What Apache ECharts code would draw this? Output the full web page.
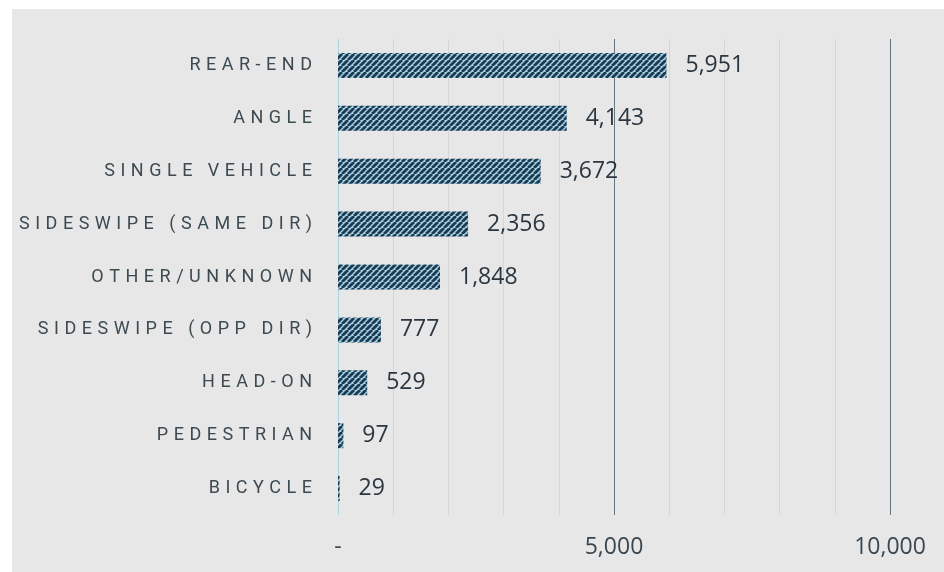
<!DOCTYPE html>
<html>
<head>
<meta charset="utf-8">
<style>
  html, body { margin: 0; padding: 0; background: #ffffff; }
  #chart { width: 944px; height: 572px; }
</style>
<script src="https://cdn.jsdelivr.net/npm/echarts@6/dist/echarts.min.js"></script>
</head>
<body>
<div id="chart"></div>
<script>
// Crash counts by collision type
const categories = [
  'REAR-END', 'ANGLE', 'SINGLE VEHICLE', 'SIDESWIPE (SAME DIR)',
  'OTHER/UNKNOWN', 'SIDESWIPE (OPP DIR)', 'HEAD-ON', 'PEDESTRIAN', 'BICYCLE'
];
const crashes = [5951, 4143, 3672, 2356, 1848, 777, 529, 97, 29];
const axisMax = 10000;
const tickStep = 1000;

// Diagonal hatch fill used for the bars
function hatchPattern() {
  const size = 6;
  const c = document.createElement('canvas');
  c.width = size; c.height = size;
  const g = c.getContext('2d');
  g.fillStyle = '#a6d3e6';
  g.fillRect(0, 0, size, size);
  g.strokeStyle = '#1c3a50';
  g.lineWidth = 2.8;
  for (const k of [-size, 0, size]) {
    g.beginPath();
    g.moveTo(k, size);
    g.lineTo(k + size, 0);
    g.stroke();
  }
  return c;
}

// Spread letters apart (thin + hair space between characters)
function spaced(s) {
  return s.split('').join('\u2009\u200A');
}

const chart = echarts.init(document.getElementById('chart'));
chart.setOption({
  backgroundColor: 'transparent',
  animation: false,
  graphic: [{
    type: 'rect',
    left: 12, top: 9,
    shape: { width: 932, height: 563 },
    style: { fill: '#e7e7e7' },
    z: -10
  }],
  grid: { left: 338, right: 54, top: 39, bottom: 57 },
  xAxis: {
    type: 'value',
    min: 0,
    max: axisMax,
    interval: tickStep,
    axisLine: { show: false },
    axisTick: { show: false },
    axisLabel: {
      margin: 21,
      color: '#3a4750',
      fontFamily: 'Open Sans',
      fontSize: 23,
      formatter: v => v === 0 ? '-' : (v % 5000 === 0 ? v.toLocaleString('en-US') : '')
    },
    splitLine: {
      show: true,
      lineStyle: {
        color: ['#a9d3e3', '#d6d6d6', '#d6d6d6', '#d6d6d6', '#d6d6d6',
                '#66767e', '#d6d6d6', '#d6d6d6', '#d6d6d6', '#d6d6d6', '#66767e'],
        width: 1
      }
    }
  },
  yAxis: {
    type: 'category',
    data: categories,
    inverse: true,
    axisLine: { show: false },
    axisTick: { show: false },
    axisLabel: {
      margin: 26,
      color: '#3d4a52',
      fontFamily: 'Roboto',
      fontSize: 18,
      formatter: v => spaced(v)
    }
  },
  series: [{
    type: 'bar',
    data: crashes,
    barWidth: 25,
    itemStyle: { color: { image: hatchPattern(), repeat: 'repeat' } },
    label: {
      show: true,
      position: 'right',
      distance: 19,
      color: '#2b3640',
      fontFamily: 'Open Sans',
      fontSize: 23,
      formatter: p => p.value.toLocaleString('en-US')
    }
  }]
});
</script>
</body>
</html>
